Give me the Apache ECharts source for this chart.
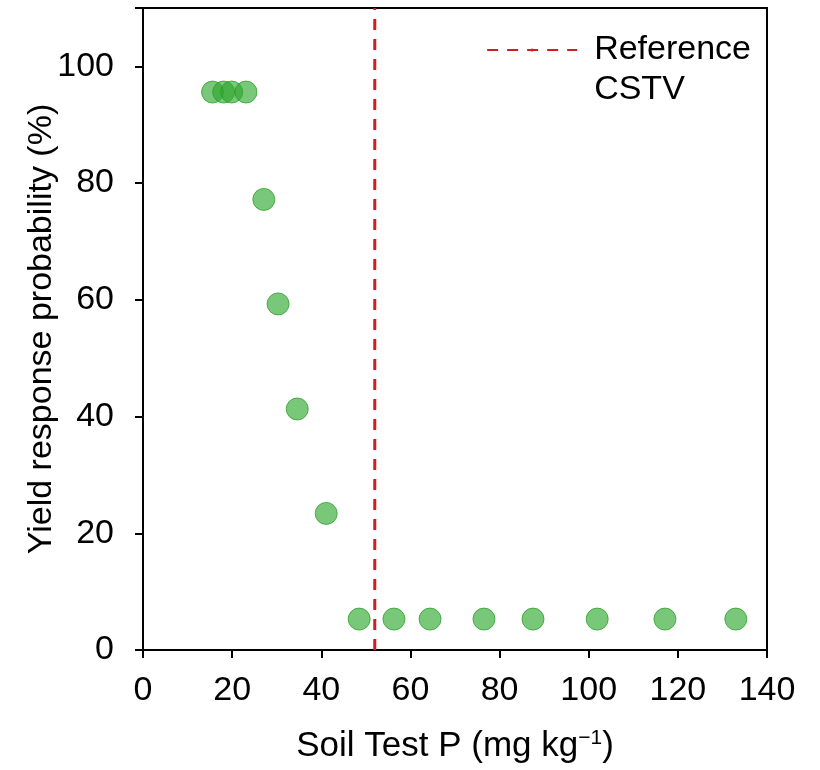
<!DOCTYPE html>
<html><head><meta charset="utf-8">
<script src="https://cdn.jsdelivr.net/npm/echarts@6/dist/echarts.min.js"></script>
<style>html,body{margin:0;padding:0;background:#fff}#c{width:820px;height:770px}</style>
</head><body><div id="c"></div>
<script>
var soilP = [15.6, 18.1, 19.9, 23.1, 27.1, 30.3, 34.6, 41.1, 48.5, 56.3, 64.4, 76.5, 87.5, 101.9, 117.1, 133.0];
var probability = [95.6, 95.6, 95.6, 95.6, 77.2, 59.3, 41.3, 23.4, 5.3, 5.3, 5.3, 5.3, 5.3, 5.3, 5.3, 5.3];
var cstv = 52;
var yRange = [0, 110];
var xTicks = [0, 140, 20];
var yTicks = [0, 100, 20];

var pts = soilP.map(function (x, i) { return [x, probability[i]]; });
var font = 'Liberation Sans, Arial, sans-serif';
var chart = echarts.init(document.getElementById('c'));
chart.setOption({
  animation: false,
  grid: { left: 143, right: 53, top: 8, bottom: 120, show: true, borderColor: '#000', borderWidth: 2, backgroundColor: 'transparent' },
  legend: {
    right: 69, top: -10, orient: 'vertical', padding: 0,
    itemWidth: 90, itemHeight: 4, itemGap: 0,
    data: ['Reference CSTV'],
    formatter: function () { return ' \nReference\nCSTV'; },
    textStyle: { fontFamily: font, fontSize: 34, color: '#000', lineHeight: 40, padding: [0, 0, 0, 12] }
  },
  xAxis: {
    type: 'value', min: xTicks[0], max: xTicks[1], interval: xTicks[2],
    name: 'Soil Test P (mg kg{sup|−1})', nameLocation: 'middle', nameGap: 78, nameMoveOverlap: false,
    nameTextStyle: { fontFamily: font, fontSize: 35, color: '#000', rich: { sup: { fontFamily: font, fontSize: 21, color: '#000', verticalAlign: 'top', padding: [0, 0, 16, 0] } } },
    axisLine: { onZero: false, lineStyle: { color: '#000', width: 2 } },
    axisTick: { show: true, length: 8, lineStyle: { color: '#000', width: 2 } },
    axisLabel: { fontFamily: font, fontSize: 34, color: '#000', margin: 24 },
    splitLine: { show: false }
  },
  yAxis: {
    type: 'value', min: yRange[0], max: yRange[1], interval: yTicks[2],
    axisLabel: { fontFamily: font, fontSize: 34, color: '#000', margin: 29,
      formatter: function (v) { return v <= yTicks[1] ? String(v) : ''; } },
    name: 'Yield response probability (%)', nameLocation: 'middle', nameGap: 84, nameMoveOverlap: false,
    nameTextStyle: { fontFamily: font, fontSize: 34, color: '#000' },
    axisLine: { onZero: false, lineStyle: { color: '#000', width: 2 } },
    axisTick: { show: true, length: 8, lineStyle: { color: '#000', width: 2 } },
    splitLine: { show: false }
  },
  series: [
    {
      name: 'Reference CSTV', type: 'line', symbol: 'none',
      data: [[cstv, yRange[0]], [cstv, yRange[1]]],
      lineStyle: { color: '#d01c24', width: 3, type: [11, 9] },
      itemStyle: { color: '#d01c24' }, z: 1
    },
    {
      name: 'data', type: 'scatter', data: pts, symbolSize: 22,
      itemStyle: { color: 'rgba(45,168,45,0.8)', borderColor: 'rgba(35,155,35,0.9)', borderWidth: 1 }, z: 2
    }
  ]
});
</script></body></html>
